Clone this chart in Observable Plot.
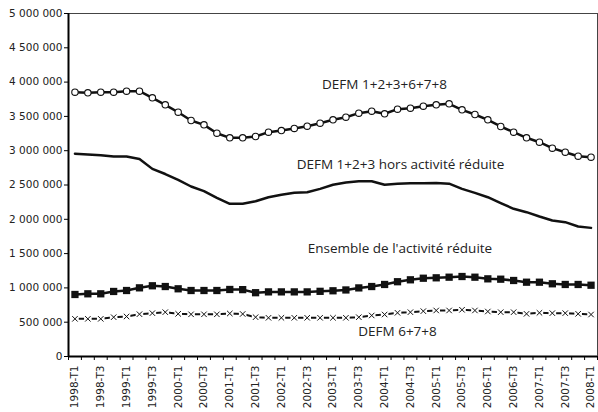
<!DOCTYPE html>
<html><head><meta charset="utf-8">
<script src="https://cdn.jsdelivr.net/npm/d3@7"></script>
<script src="https://cdn.jsdelivr.net/npm/@observablehq/plot@0.6"></script>
<style>html,body{margin:0;padding:0;background:#fff}#chart svg{display:block}</style>
</head><body><div id="chart"></div>
<script>
const quarters = ["1998-T1","1998-T2","1998-T3","1998-T4","1999-T1","1999-T2","1999-T3","1999-T4",
"2000-T1","2000-T2","2000-T3","2000-T4","2001-T1","2001-T2","2001-T3","2001-T4",
"2002-T1","2002-T2","2002-T3","2002-T4","2003-T1","2003-T2","2003-T3","2003-T4",
"2004-T1","2004-T2","2004-T3","2004-T4","2005-T1","2005-T2","2005-T3","2005-T4",
"2006-T1","2006-T2","2006-T3","2006-T4","2007-T1","2007-T2","2007-T3","2007-T4","2008-T1"];

const defm123678 = [3853000,3843000,3853000,3853000,3867000,3867000,3771000,3669000,3561000,3440000,
3377000,3255000,3188000,3188000,3207000,3270000,3294000,3324000,3357000,3401000,
3450000,3488000,3547000,3576000,3538000,3605000,3620000,3649000,3669000,3683000,
3596000,3528000,3450000,3353000,3270000,3188000,3124000,3037000,2978000,2920000,2905000];

const defm123HorsAR = [2955000,2945000,2935000,2915000,2915000,2880000,2735000,2660000,2575000,2478000,
2410000,2313000,2226000,2226000,2264000,2322000,2357000,2386000,2395000,2444000,
2503000,2536000,2555000,2555000,2503000,2517000,2526000,2526000,2530000,2520000,
2444000,2386000,2322000,2235000,2153000,2104000,2041000,1983000,1958000,1895000,1875000];

const ensembleAR = [904000,914000,914000,948000,962000,1001000,1031000,1020000,987000,962000,
962000,962000,977000,975000,930000,942000,942000,942000,942000,950000,
958000,970000,1000000,1020000,1050000,1090000,1118000,1141000,1147000,1156000,
1166000,1156000,1132000,1127000,1108000,1083000,1083000,1060000,1050000,1050000,1039000];

const defm678 = [549000,549000,549000,573000,583000,617000,632000,646000,622000,615000,
615000,615000,627000,620000,573000,564000,564000,564000,564000,564000,
564000,564000,573000,598000,612000,637000,646000,661000,671000,671000,
681000,671000,656000,646000,646000,622000,637000,632000,632000,622000,612000];

const seriesLabels = ["DEFM 1+2+3+6+7+8","DEFM 1+2+3 hors activité réduite","Ensemble de l'activité réduite","DEFM 6+7+8"];
const yTicks = [0,500000,1000000,1500000,2000000,2500000,3000000,3500000,4000000,4500000,5000000];

const fmt = d3.formatLocale({decimal: ",", thousands: " ", grouping: [3], currency: ["", "€"]}).format(",d");
const rows = vals => vals.map((v, i) => ({i, v}));
const s1 = rows(defm123678), s2 = rows(defm123HorsAR), s3 = rows(ensembleAR), s4 = rows(defm678);
const n = quarters.length;
const boundaries = d3.range(n + 1).map(k => k - 0.5);
const labelled = quarters.map((q, i) => i).filter(i => i % 2 === 0);
const annot = {fontFamily: "Open Sans", fontSize: 13.5, fill: "#222", textAnchor: "middle"};

const chart = Plot.plot({
  width: 598, height: 412,
  marginLeft: 68, marginRight: 1, marginTop: 13, marginBottom: 56,
  style: {fontFamily: "DejaVu Sans", fontSize: "10.5px", color: "#222", background: "#fff"},
  x: {domain: [-0.5, n - 0.5]},
  y: {domain: [0, 5000000]},
  marks: [
    Plot.frame({stroke: "#444", strokeWidth: 1}),
    Plot.axisY({ticks: yTicks, tickFormat: fmt, tickSize: 4, tickPadding: 2, stroke: "#000", label: null}),
    Plot.axisX({ticks: boundaries, tickFormat: () => "", tickSize: 4, stroke: "#000", label: null}),
    Plot.axisX({ticks: labelled, tickFormat: i => quarters[i], tickRotate: -90, tickSize: 0, tickPadding: 9, label: null}),
    Plot.ruleX([-0.5], {stroke: "#000", strokeWidth: 2}),
    Plot.ruleY([0], {stroke: "#000", strokeWidth: 2}),
    Plot.lineY(s1, {x: "i", y: "v", stroke: "#111", strokeWidth: 2.5}),
    Plot.lineY(s2, {x: "i", y: "v", stroke: "#111", strokeWidth: 2.5}),
    Plot.lineY(s3, {x: "i", y: "v", stroke: "#111", strokeWidth: 2.5}),
    Plot.lineY(s4, {x: "i", y: "v", stroke: "#111", strokeWidth: 2}),
    Plot.dot(s1, {x: "i", y: "v", r: 3.2, fill: "#fff", stroke: "#111", strokeWidth: 1.1}),
    Plot.dot(s3, {x: "i", y: "v", r: 4.1, symbol: "square", fill: "#111", stroke: "none"}),
    Plot.dot(s4, {x: "i", y: "v", r: 4.3, symbol: "square", fill: "#fff", stroke: "none"}),
    Plot.dot(s4, {x: "i", y: "v", r: 2.6, symbol: "times", stroke: "#111", strokeWidth: 1}),
    Plot.text([seriesLabels[0]], {x: 23.99, y: 3969000, text: d => d, ...annot}),
    Plot.text([seriesLabels[1]], {x: 25.23, y: 2803000, text: d => d, ...annot}),
    Plot.text([seriesLabels[2]], {x: 25.19, y: 1579000, text: d => d, ...annot}),
    Plot.text([seriesLabels[3]], {x: 25.0, y: 369000, text: d => d, ...annot})
  ]
});
document.getElementById("chart").append(chart);
</script>
</body></html>
